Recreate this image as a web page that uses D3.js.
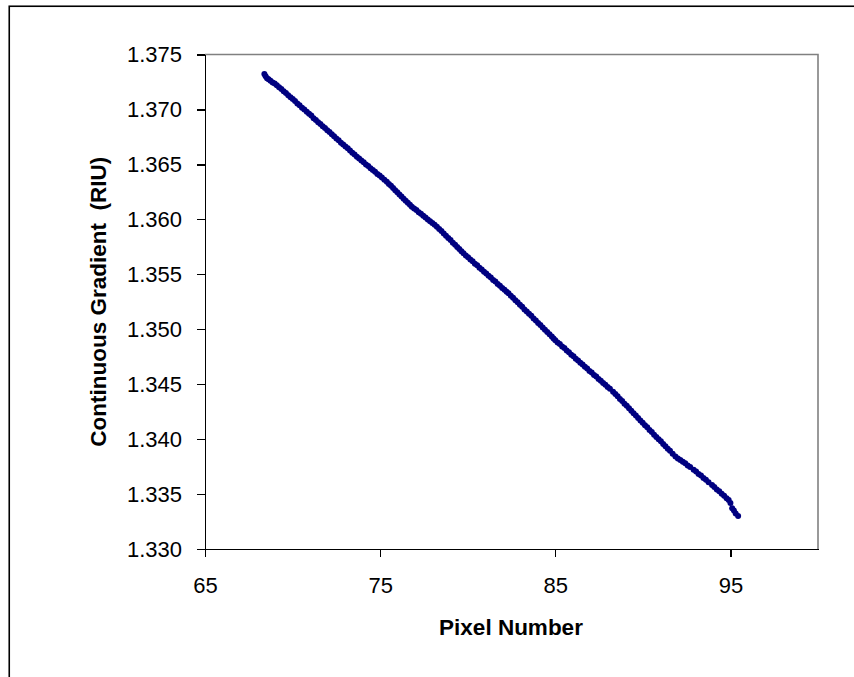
<!DOCTYPE html>
<meta charset="utf-8">
<style>
body { margin: 0; background: #fff; }
svg { font-family: "Liberation Sans", Arial, sans-serif; }
.axis text { font-size: 22px; fill: #000; }
.axis path, .axis line { stroke: #000; stroke-width: 1.3; shape-rendering: crispEdges; }
.title { font-size: 22.5px; font-weight: bold; fill: #000; }
.dot { fill: #000080; }
</style>
<body>
<div id="chart"></div>
<script src="https://cdn.jsdelivr.net/npm/d3@7"></script>
<script>

// pixel number (x)
var pixelNumber = [
  68.39, 68.46, 68.54, 68.63, 68.74, 68.86, 68.98, 69.10, 69.23, 69.36, 69.49, 69.62, 69.75, 69.88, 70.01, 70.14, 70.27, 70.40, 70.54, 70.67, 70.81,
  70.94, 71.07, 71.20, 71.33, 71.46, 71.59, 71.72, 71.85, 71.98, 72.11, 72.24, 72.37, 72.50, 72.63, 72.76, 72.89, 73.02, 73.15, 73.28, 73.41, 73.54, 73.67,
  73.80, 73.93, 74.06, 74.19, 74.32, 74.45, 74.58, 74.71, 74.84, 74.97, 75.10, 75.24, 75.38,
  75.50, 75.62, 75.74, 75.86, 75.98, 76.10, 76.22, 76.34, 76.46, 76.58, 76.70, 76.81,
  76.94, 77.07, 77.20, 77.33, 77.46, 77.59, 77.72, 77.85, 77.98, 78.11, 78.24,
  78.37, 78.50, 78.63, 78.76, 78.89, 79.02, 79.15, 79.28, 79.40, 79.52, 79.64, 79.76,
  79.89, 80.02, 80.15, 80.28, 80.41, 80.54, 80.67, 80.80, 80.93, 81.06, 81.19, 81.32, 81.45, 81.58, 81.71, 81.84, 81.97, 82.10, 82.22, 82.33,
  82.46, 82.59, 82.72, 82.85, 82.98, 83.11, 83.24, 83.37, 83.50, 83.63, 83.76, 83.89, 84.02, 84.15, 84.28, 84.41, 84.54, 84.67, 84.80, 84.90, 85.00,
  85.13, 85.26, 85.39, 85.52, 85.65, 85.78, 85.91, 86.04, 86.17, 86.30, 86.43, 86.56, 86.69, 86.82, 86.95, 87.08, 87.21, 87.34, 87.47, 87.60, 87.73, 87.86, 87.99, 88.12, 88.30,
  88.43, 88.56, 88.69, 88.82, 88.95, 89.08, 89.21, 89.34, 89.47, 89.60, 89.73, 89.86, 89.99, 90.12, 90.25, 90.38, 90.51, 90.64, 90.77, 90.90, 91.03, 91.16, 91.29, 91.42, 91.55, 91.70, 91.86,
  92.00, 92.14, 92.28, 92.42, 92.56, 92.70, 92.90,
  93.04, 93.18, 93.32, 93.46, 93.60, 93.75, 93.95,
  94.08, 94.22, 94.36, 94.50, 94.64, 94.78, 94.90,
  95.00, 95.10, 95.20, 95.30, 95.44
];

// continuous gradient (RIU) for each pixel
var gradient = [
  1.37323, 1.37302, 1.37284, 1.37275, 1.37262, 1.37246, 1.37236, 1.37220, 1.37202, 1.37186, 1.37166, 1.37150, 1.37130, 1.37110, 1.37094, 1.37077, 1.37054, 1.37038, 1.37016, 1.37000, 1.36979,
  1.36960, 1.36944, 1.36921, 1.36905, 1.36884, 1.36868, 1.36848, 1.36832, 1.36811, 1.36794, 1.36774, 1.36756, 1.36736, 1.36720, 1.36698, 1.36682, 1.36662, 1.36646, 1.36626, 1.36606, 1.36590, 1.36570,
  1.36554, 1.36535, 1.36520, 1.36500, 1.36486, 1.36465, 1.36449, 1.36432, 1.36413, 1.36398, 1.36380, 1.36360, 1.36342,
  1.36322, 1.36305, 1.36285, 1.36265, 1.36247, 1.36226, 1.36208, 1.36187, 1.36170, 1.36150, 1.36133, 1.36115,
  1.36098, 1.36084, 1.36064, 1.36050, 1.36032, 1.36016, 1.35998, 1.35983, 1.35966, 1.35950, 1.35933,
  1.35912, 1.35893, 1.35870, 1.35851, 1.35830, 1.35811, 1.35788, 1.35768, 1.35748, 1.35730, 1.35709, 1.35691,
  1.35670, 1.35655, 1.35634, 1.35619, 1.35596, 1.35582, 1.35560, 1.35544, 1.35524, 1.35506, 1.35486, 1.35470, 1.35449, 1.35434, 1.35412, 1.35396, 1.35376, 1.35360, 1.35341, 1.35327,
  1.35305, 1.35286, 1.35263, 1.35245, 1.35222, 1.35204, 1.35180, 1.35162, 1.35140, 1.35122, 1.35098, 1.35080, 1.35056, 1.35038, 1.35015, 1.34996, 1.34974, 1.34954, 1.34933, 1.34916, 1.34900,
  1.34880, 1.34865, 1.34842, 1.34828, 1.34806, 1.34791, 1.34768, 1.34754, 1.34732, 1.34716, 1.34695, 1.34680, 1.34658, 1.34642, 1.34620, 1.34606, 1.34584, 1.34569, 1.34546, 1.34532, 1.34510, 1.34494, 1.34474, 1.34458, 1.34432,
  1.34410, 1.34390, 1.34366, 1.34347, 1.34322, 1.34303, 1.34280, 1.34258, 1.34236, 1.34215, 1.34193, 1.34170, 1.34150, 1.34126, 1.34108, 1.34083, 1.34064, 1.34040, 1.34020, 1.33998, 1.33980, 1.33955, 1.33936, 1.33912, 1.33893, 1.33866, 1.33841,
  1.33824, 1.33810, 1.33793, 1.33780, 1.33760, 1.33746, 1.33722,
  1.33705, 1.33683, 1.33668, 1.33646, 1.33630, 1.33608, 1.33582,
  1.33565, 1.33542, 1.33526, 1.33502, 1.33485, 1.33462, 1.33445,
  1.33418, 1.33370, 1.33350, 1.33322, 1.33300
];

var xTicks = [65, 75, 85, 95];
var yTicks = [1.375, 1.370, 1.365, 1.360, 1.355, 1.350, 1.345, 1.340, 1.335, 1.330];

var data = pixelNumber.map(function(p, i) { return {px: p, riu: gradient[i]}; });

var width = 854, height = 677;
var plot = {left: 205, right: 818, top: 54.5, bottom: 549};

var x = d3.scaleLinear().domain([65, 100]).range([plot.left, plot.right]);
var y = d3.scaleLinear().domain([1.330, 1.375]).range([plot.bottom, plot.top]);

var svg = d3.select("#chart").append("svg")
    .attr("width", width)
    .attr("height", height);

// outer chart frame (only top/left edges fall inside the picture)
svg.append("rect")
    .attr("x", 9.25).attr("y", 6.25)
    .attr("width", 900).attr("height", 700)
    .attr("fill", "#fff")
    .attr("stroke", "#000")
    .attr("stroke-width", 1.6);

// grey top + right border of plot area
svg.append("path")
    .attr("d", "M" + plot.left + "," + plot.top + "H" + plot.right + "V" + plot.bottom)
    .attr("fill", "none")
    .attr("stroke", "#808080")
    .attr("stroke-width", 1.6);

var xAxis = d3.axisBottom(x)
    .tickValues(xTicks)
    .tickSizeInner(8).tickSizeOuter(0)
    .tickPadding(20)
    .tickFormat(d3.format("d"));

var yAxis = d3.axisLeft(y)
    .tickValues(yTicks)
    .tickSizeInner(8).tickSizeOuter(0)
    .tickPadding(15)
    .tickFormat(d3.format(".3f"));

svg.append("g")
    .attr("class", "axis x-axis")
    .attr("transform", "translate(0," + plot.bottom + ")")
    .call(xAxis);

svg.append("g")
    .attr("class", "axis y-axis")
    .attr("transform", "translate(" + plot.left + ",0)")
    .call(yAxis);

svg.selectAll(".axis text").attr("font-family", null);
svg.selectAll(".axis").attr("font-size", null);

svg.append("g").selectAll("circle")
    .data(data)
  .enter().append("circle")
    .attr("class", "dot")
    .attr("r", 3)
    .attr("cx", function(d) { return x(d.px); })
    .attr("cy", function(d) { return y(d.riu); });

svg.append("text")
    .attr("class", "title")
    .attr("x", 511)
    .attr("y", 635)
    .style("text-anchor", "middle")
    .text("Pixel Number");

svg.append("text")
    .attr("class", "title")
    .attr("transform", "translate(106," + ((plot.top + plot.bottom) / 2) + ") rotate(-90)")
    .style("text-anchor", "middle")
    .style("white-space", "pre")
    .text("Continuous Gradient  (RIU)");

</script>
</body>
